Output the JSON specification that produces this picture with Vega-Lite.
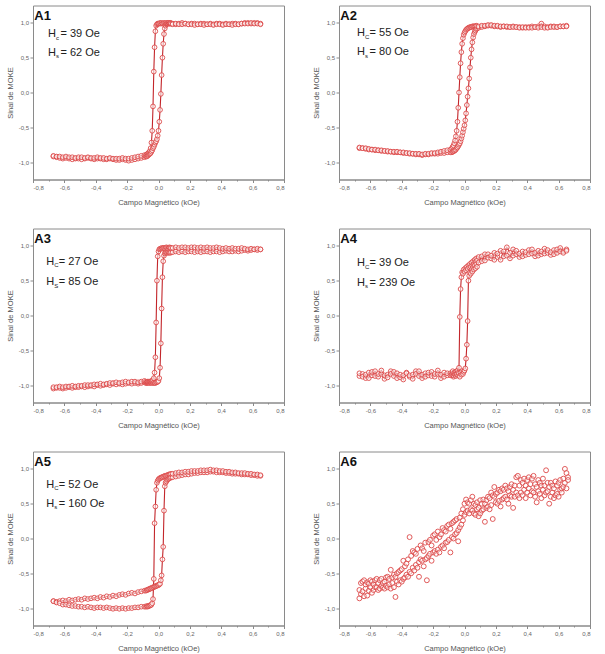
{
"$schema": "https://vega.github.io/schema/vega-lite/v6.json",
"padding": {"left": 5, "top": 4.5, "right": 0, "bottom": 0},
"spacing": 21,
"data": {"values": [
{"p":"A1","t":"A1","hc":"= 39 Oe","hs":"= 62 Oe"},
{"p":"A2","t":"A2","hc":"= 55 Oe","hs":"= 80 Oe"},
{"p":"A3","t":"A3","hc":"= 27 Oe","hs":"= 85 Oe"},
{"p":"A4","t":"A4","hc":"= 39 Oe","hs":"= 239 Oe"},
{"p":"A5","t":"A5","hc":"= 52 Oe","hs":"= 160 Oe"},
{"p":"A6","t":"A6"},
{"p":"A1","x":-0.67,"u":-0.92,"d":-0.91},{"p":"A1","x":-0.65,"u":-0.93,"d":-0.92},{"p":"A1","x":-0.63,"u":-0.94,"d":-0.92},{"p":"A1","x":-0.61,"u":-0.95,"d":-0.93},{"p":"A1","x":-0.59,"u":-0.94,"d":-0.92},{"p":"A1","x":-0.57,"u":-0.95,"d":-0.93},{"p":"A1","x":-0.55,"u":-0.96,"d":-0.93},{"p":"A1","x":-0.53,"u":-0.95,"d":-0.94},{"p":"A1","x":-0.51,"u":-0.95,"d":-0.93},{"p":"A1","x":-0.49,"u":-0.96,"d":-0.93},{"p":"A1","x":-0.47,"u":-0.95,"d":-0.94},{"p":"A1","x":-0.45,"u":-0.94,"d":-0.93},{"p":"A1","x":-0.43,"u":-0.95,"d":-0.94},{"p":"A1","x":-0.41,"u":-0.96,"d":-0.94},{"p":"A1","x":-0.39,"u":-0.95,"d":-0.93},{"p":"A1","x":-0.37,"u":-0.95,"d":-0.94},{"p":"A1","x":-0.35,"u":-0.96,"d":-0.94},{"p":"A1","x":-0.33,"u":-0.96,"d":-0.95},{"p":"A1","x":-0.31,"u":-0.95,"d":-0.94},{"p":"A1","x":-0.29,"u":-0.96,"d":-0.95},{"p":"A1","x":-0.27,"u":-0.97,"d":-0.95},{"p":"A1","x":-0.25,"u":-0.97,"d":-0.95},{"p":"A1","x":-0.23,"u":-0.96,"d":-0.94},{"p":"A1","x":-0.21,"u":-0.97,"d":-0.95},{"p":"A1","x":-0.19,"u":-0.98,"d":-0.95},{"p":"A1","x":-0.17,"u":-0.97,"d":-0.94},{"p":"A1","x":-0.15,"u":-0.96,"d":-0.93},{"p":"A1","x":-0.13,"u":-0.95,"d":-0.92},{"p":"A1","x":-0.11,"u":-0.94,"d":-0.91},{"p":"A1","x":-0.09,"u":-0.93,"d":-0.9},
{"p":"A1","x":-0.08,"u":-0.92,"d":-0.9},{"p":"A1","x":-0.075,"u":-0.92,"d":-0.89},{"p":"A1","x":-0.07,"u":-0.91,"d":-0.88},{"p":"A1","x":-0.065,"u":-0.9,"d":-0.87},{"p":"A1","x":-0.06,"u":-0.89,"d":-0.86},{"p":"A1","x":-0.055,"u":-0.88,"d":-0.84},{"p":"A1","x":-0.05,"u":-0.87,"d":-0.8},{"p":"A1","x":-0.045,"u":-0.85,"d":-0.72},{"p":"A1","x":-0.04,"u":-0.83,"d":-0.55},{"p":"A1","x":-0.035,"u":-0.8,"d":-0.2},{"p":"A1","x":-0.03,"u":-0.78,"d":0.3},{"p":"A1","x":-0.025,"u":-0.75,"d":0.65},{"p":"A1","x":-0.02,"u":-0.72,"d":0.88},{"p":"A1","x":-0.015,"u":-0.7,"d":0.96},{"p":"A1","x":-0.01,"u":-0.67,"d":0.98},{"p":"A1","x":-0.005,"u":-0.62,"d":0.99},{"p":"A1","x":0,"u":-0.55,"d":0.99},{"p":"A1","x":0.005,"u":-0.42,"d":0.99},{"p":"A1","x":0.01,"u":-0.25,"d":1.0},{"p":"A1","x":0.015,"u":-0.02,"d":0.99},{"p":"A1","x":0.02,"u":0.25,"d":1.0},{"p":"A1","x":0.025,"u":0.5,"d":0.99},{"p":"A1","x":0.03,"u":0.7,"d":0.99},{"p":"A1","x":0.035,"u":0.84,"d":1.0},{"p":"A1","x":0.04,"u":0.92,"d":0.99},{"p":"A1","x":0.045,"u":0.96,"d":1.0},{"p":"A1","x":0.05,"u":0.98,"d":0.99},{"p":"A1","x":0.055,"u":0.99,"d":1.0},{"p":"A1","x":0.06,"u":0.99,"d":0.99},{"p":"A1","x":0.065,"u":1.0,"d":1.0},{"p":"A1","x":0.07,"u":0.99,"d":0.99},{"p":"A1","x":0.075,"u":1.0,"d":1.0},{"p":"A1","x":0.08,"u":0.99,"d":0.99},
{"p":"A1","x":0.09,"u":0.99,"d":0.98},{"p":"A1","x":0.11,"u":0.98,"d":0.99},{"p":"A1","x":0.13,"u":0.99,"d":0.98},{"p":"A1","x":0.15,"u":1.0,"d":0.98},{"p":"A1","x":0.17,"u":0.99,"d":0.99},{"p":"A1","x":0.19,"u":0.98,"d":0.98},{"p":"A1","x":0.21,"u":0.99,"d":0.98},{"p":"A1","x":0.23,"u":0.99,"d":0.97},{"p":"A1","x":0.25,"u":0.98,"d":0.98},{"p":"A1","x":0.27,"u":0.99,"d":0.98},{"p":"A1","x":0.29,"u":0.99,"d":0.97},{"p":"A1","x":0.31,"u":0.98,"d":0.98},{"p":"A1","x":0.33,"u":0.99,"d":0.98},{"p":"A1","x":0.35,"u":0.98,"d":0.97},{"p":"A1","x":0.37,"u":0.99,"d":0.98},{"p":"A1","x":0.39,"u":0.99,"d":0.98},{"p":"A1","x":0.41,"u":0.98,"d":0.97},{"p":"A1","x":0.43,"u":0.99,"d":0.98},{"p":"A1","x":0.45,"u":0.98,"d":0.98},{"p":"A1","x":0.47,"u":0.99,"d":0.97},{"p":"A1","x":0.49,"u":0.99,"d":0.98},{"p":"A1","x":0.51,"u":0.98,"d":0.98},{"p":"A1","x":0.53,"u":0.99,"d":0.99},{"p":"A1","x":0.55,"u":1.0,"d":0.99},{"p":"A1","x":0.57,"u":1.0,"d":0.99},{"p":"A1","x":0.59,"u":0.99,"d":1.0},{"p":"A1","x":0.61,"u":1.0,"d":0.99},{"p":"A1","x":0.63,"u":1.0,"d":0.99},{"p":"A1","x":0.65,"u":0.99,"d":0.98},
{"p":"A2","x":-0.67,"u":-0.8,"d":-0.79},{"p":"A2","x":-0.65,"u":-0.8,"d":-0.8},{"p":"A2","x":-0.63,"u":-0.81,"d":-0.8},{"p":"A2","x":-0.61,"u":-0.82,"d":-0.81},{"p":"A2","x":-0.59,"u":-0.82,"d":-0.82},{"p":"A2","x":-0.57,"u":-0.83,"d":-0.82},{"p":"A2","x":-0.55,"u":-0.83,"d":-0.83},{"p":"A2","x":-0.53,"u":-0.84,"d":-0.83},{"p":"A2","x":-0.51,"u":-0.84,"d":-0.84},{"p":"A2","x":-0.49,"u":-0.85,"d":-0.84},{"p":"A2","x":-0.47,"u":-0.85,"d":-0.85},{"p":"A2","x":-0.45,"u":-0.86,"d":-0.85},{"p":"A2","x":-0.43,"u":-0.86,"d":-0.85},{"p":"A2","x":-0.41,"u":-0.86,"d":-0.86},{"p":"A2","x":-0.39,"u":-0.87,"d":-0.86},{"p":"A2","x":-0.37,"u":-0.87,"d":-0.87},{"p":"A2","x":-0.35,"u":-0.88,"d":-0.87},{"p":"A2","x":-0.33,"u":-0.88,"d":-0.88},{"p":"A2","x":-0.31,"u":-0.89,"d":-0.88},{"p":"A2","x":-0.29,"u":-0.89,"d":-0.88},{"p":"A2","x":-0.27,"u":-0.9,"d":-0.89},{"p":"A2","x":-0.25,"u":-0.89,"d":-0.88},{"p":"A2","x":-0.23,"u":-0.89,"d":-0.88},{"p":"A2","x":-0.21,"u":-0.88,"d":-0.87},{"p":"A2","x":-0.19,"u":-0.88,"d":-0.87},{"p":"A2","x":-0.17,"u":-0.88,"d":-0.86},{"p":"A2","x":-0.15,"u":-0.87,"d":-0.85},{"p":"A2","x":-0.13,"u":-0.87,"d":-0.84},{"p":"A2","x":-0.11,"u":-0.86,"d":-0.83},{"p":"A2","x":-0.09,"u":-0.86,"d":-0.82},
{"p":"A2","x":-0.08,"u":-0.86,"d":-0.8},{"p":"A2","x":-0.075,"u":-0.85,"d":-0.78},{"p":"A2","x":-0.07,"u":-0.84,"d":-0.76},{"p":"A2","x":-0.065,"u":-0.84,"d":-0.73},{"p":"A2","x":-0.06,"u":-0.83,"d":-0.69},{"p":"A2","x":-0.055,"u":-0.82,"d":-0.63},{"p":"A2","x":-0.05,"u":-0.8,"d":-0.55},{"p":"A2","x":-0.045,"u":-0.79,"d":-0.42},{"p":"A2","x":-0.04,"u":-0.77,"d":-0.22},{"p":"A2","x":-0.035,"u":-0.75,"d":0.0},{"p":"A2","x":-0.03,"u":-0.73,"d":0.22},{"p":"A2","x":-0.025,"u":-0.7,"d":0.42},{"p":"A2","x":-0.02,"u":-0.66,"d":0.58},{"p":"A2","x":-0.015,"u":-0.62,"d":0.7},{"p":"A2","x":-0.01,"u":-0.57,"d":0.78},{"p":"A2","x":-0.005,"u":-0.52,"d":0.83},{"p":"A2","x":0,"u":-0.47,"d":0.86},{"p":"A2","x":0.005,"u":-0.4,"d":0.88},{"p":"A2","x":0.01,"u":-0.3,"d":0.9},{"p":"A2","x":0.015,"u":-0.18,"d":0.91},{"p":"A2","x":0.02,"u":-0.06,"d":0.92},{"p":"A2","x":0.025,"u":0.06,"d":0.93},{"p":"A2","x":0.03,"u":0.2,"d":0.93},{"p":"A2","x":0.035,"u":0.36,"d":0.94},{"p":"A2","x":0.04,"u":0.5,"d":0.94},{"p":"A2","x":0.045,"u":0.62,"d":0.94},{"p":"A2","x":0.05,"u":0.72,"d":0.95},{"p":"A2","x":0.055,"u":0.79,"d":0.95},{"p":"A2","x":0.06,"u":0.84,"d":0.95},{"p":"A2","x":0.065,"u":0.87,"d":0.95},{"p":"A2","x":0.07,"u":0.89,"d":0.95},{"p":"A2","x":0.075,"u":0.91,"d":0.96},{"p":"A2","x":0.08,"u":0.92,"d":0.95},
{"p":"A2","x":0.09,"u":0.93,"d":0.95},{"p":"A2","x":0.11,"u":0.94,"d":0.96},{"p":"A2","x":0.13,"u":0.95,"d":0.96},{"p":"A2","x":0.15,"u":0.96,"d":0.97},{"p":"A2","x":0.17,"u":0.96,"d":0.97},{"p":"A2","x":0.19,"u":0.95,"d":0.96},{"p":"A2","x":0.21,"u":0.95,"d":0.96},{"p":"A2","x":0.23,"u":0.94,"d":0.95},{"p":"A2","x":0.25,"u":0.95,"d":0.95},{"p":"A2","x":0.27,"u":0.94,"d":0.95},{"p":"A2","x":0.29,"u":0.94,"d":0.94},{"p":"A2","x":0.31,"u":0.95,"d":0.94},{"p":"A2","x":0.33,"u":0.94,"d":0.94},{"p":"A2","x":0.35,"u":0.94,"d":0.93},{"p":"A2","x":0.37,"u":0.93,"d":0.94},{"p":"A2","x":0.39,"u":0.94,"d":0.93},{"p":"A2","x":0.41,"u":0.94,"d":0.93},{"p":"A2","x":0.43,"u":0.95,"d":0.93},{"p":"A2","x":0.45,"u":0.94,"d":0.94},{"p":"A2","x":0.47,"u":0.95,"d":0.93},{"p":"A2","x":0.49,"u":0.99,"d":0.94},{"p":"A2","x":0.51,"u":0.95,"d":0.93},{"p":"A2","x":0.53,"u":0.94,"d":0.93},{"p":"A2","x":0.55,"u":0.95,"d":0.94},{"p":"A2","x":0.57,"u":0.95,"d":0.94},{"p":"A2","x":0.59,"u":0.94,"d":0.94},{"p":"A2","x":0.61,"u":0.95,"d":0.95},{"p":"A2","x":0.63,"u":0.95,"d":0.95},{"p":"A2","x":0.65,"u":0.96,"d":0.95},
{"p":"A3","x":-0.67,"u":-1.05,"d":-1.03},{"p":"A3","x":-0.65,"u":-1.04,"d":-1.03},{"p":"A3","x":-0.63,"u":-1.04,"d":-1.02},{"p":"A3","x":-0.61,"u":-1.05,"d":-1.03},{"p":"A3","x":-0.59,"u":-1.04,"d":-1.02},{"p":"A3","x":-0.57,"u":-1.03,"d":-1.02},{"p":"A3","x":-0.55,"u":-1.04,"d":-1.01},{"p":"A3","x":-0.53,"u":-1.03,"d":-1.02},{"p":"A3","x":-0.51,"u":-1.03,"d":-1.01},{"p":"A3","x":-0.49,"u":-1.02,"d":-1.01},{"p":"A3","x":-0.47,"u":-1.03,"d":-1.0},{"p":"A3","x":-0.45,"u":-1.02,"d":-1.0},{"p":"A3","x":-0.43,"u":-1.01,"d":-1.0},{"p":"A3","x":-0.41,"u":-1.02,"d":-0.99},{"p":"A3","x":-0.39,"u":-1.0,"d":-0.99},{"p":"A3","x":-0.37,"u":-1.01,"d":-0.98},{"p":"A3","x":-0.35,"u":-1.0,"d":-0.99},{"p":"A3","x":-0.33,"u":-0.99,"d":-0.98},{"p":"A3","x":-0.31,"u":-1.0,"d":-0.97},{"p":"A3","x":-0.29,"u":-0.98,"d":-0.97},{"p":"A3","x":-0.27,"u":-0.99,"d":-0.96},{"p":"A3","x":-0.25,"u":-0.98,"d":-0.97},{"p":"A3","x":-0.23,"u":-0.99,"d":-0.96},{"p":"A3","x":-0.21,"u":-0.98,"d":-0.95},{"p":"A3","x":-0.19,"u":-0.97,"d":-0.96},{"p":"A3","x":-0.17,"u":-0.98,"d":-0.95},{"p":"A3","x":-0.15,"u":-0.97,"d":-0.95},{"p":"A3","x":-0.13,"u":-0.98,"d":-0.96},{"p":"A3","x":-0.11,"u":-0.97,"d":-0.95},{"p":"A3","x":-0.09,"u":-0.96,"d":-0.94},
{"p":"A3","x":-0.08,"u":-0.97,"d":-0.95},{"p":"A3","x":-0.075,"u":-0.97,"d":-0.96},{"p":"A3","x":-0.07,"u":-0.96,"d":-0.95},{"p":"A3","x":-0.065,"u":-0.97,"d":-0.95},{"p":"A3","x":-0.06,"u":-0.96,"d":-0.96},{"p":"A3","x":-0.055,"u":-0.97,"d":-0.95},{"p":"A3","x":-0.05,"u":-0.96,"d":-0.95},{"p":"A3","x":-0.045,"u":-0.97,"d":-0.94},{"p":"A3","x":-0.04,"u":-0.96,"d":-0.94},{"p":"A3","x":-0.035,"u":-0.97,"d":-0.93},{"p":"A3","x":-0.03,"u":-0.96,"d":-0.9},{"p":"A3","x":-0.025,"u":-0.97,"d":-0.82},{"p":"A3","x":-0.02,"u":-0.97,"d":-0.6},{"p":"A3","x":-0.015,"u":-0.96,"d":-0.1},{"p":"A3","x":-0.01,"u":-0.96,"d":0.5},{"p":"A3","x":-0.005,"u":-0.95,"d":0.85},{"p":"A3","x":0,"u":-0.94,"d":0.92},{"p":"A3","x":0.005,"u":-0.9,"d":0.95},{"p":"A3","x":0.01,"u":-0.75,"d":0.96},{"p":"A3","x":0.015,"u":-0.4,"d":0.96},{"p":"A3","x":0.02,"u":0.1,"d":0.97},{"p":"A3","x":0.025,"u":0.55,"d":0.96},{"p":"A3","x":0.03,"u":0.78,"d":0.97},{"p":"A3","x":0.035,"u":0.86,"d":0.97},{"p":"A3","x":0.04,"u":0.89,"d":0.96},{"p":"A3","x":0.045,"u":0.9,"d":0.97},{"p":"A3","x":0.05,"u":0.91,"d":0.98},{"p":"A3","x":0.055,"u":0.9,"d":0.97},{"p":"A3","x":0.06,"u":0.91,"d":0.96},{"p":"A3","x":0.065,"u":0.9,"d":0.97},{"p":"A3","x":0.07,"u":0.91,"d":0.98},{"p":"A3","x":0.075,"u":0.9,"d":0.97},{"p":"A3","x":0.08,"u":0.91,"d":0.97},
{"p":"A3","x":0.09,"u":0.91,"d":0.97},{"p":"A3","x":0.11,"u":0.92,"d":0.98},{"p":"A3","x":0.13,"u":0.91,"d":0.97},{"p":"A3","x":0.15,"u":0.92,"d":0.98},{"p":"A3","x":0.17,"u":0.91,"d":0.98},{"p":"A3","x":0.19,"u":0.92,"d":0.97},{"p":"A3","x":0.21,"u":0.92,"d":0.98},{"p":"A3","x":0.23,"u":0.91,"d":0.98},{"p":"A3","x":0.25,"u":0.92,"d":0.97},{"p":"A3","x":0.27,"u":0.91,"d":0.98},{"p":"A3","x":0.29,"u":0.92,"d":0.97},{"p":"A3","x":0.31,"u":0.92,"d":0.98},{"p":"A3","x":0.33,"u":0.91,"d":0.97},{"p":"A3","x":0.35,"u":0.92,"d":0.97},{"p":"A3","x":0.37,"u":0.92,"d":0.98},{"p":"A3","x":0.39,"u":0.91,"d":0.97},{"p":"A3","x":0.41,"u":0.92,"d":0.96},{"p":"A3","x":0.43,"u":0.93,"d":0.97},{"p":"A3","x":0.45,"u":0.92,"d":0.96},{"p":"A3","x":0.47,"u":0.92,"d":0.97},{"p":"A3","x":0.49,"u":0.93,"d":0.96},{"p":"A3","x":0.51,"u":0.92,"d":0.96},{"p":"A3","x":0.53,"u":0.93,"d":0.97},{"p":"A3","x":0.55,"u":0.94,"d":0.96},{"p":"A3","x":0.57,"u":0.93,"d":0.95},{"p":"A3","x":0.59,"u":0.94,"d":0.96},{"p":"A3","x":0.61,"u":0.95,"d":0.95},{"p":"A3","x":0.63,"u":0.94,"d":0.96},{"p":"A3","x":0.65,"u":0.95,"d":0.95},
{"p":"A4","x":-0.67,"u":-0.87,"d":-0.83},{"p":"A4","x":-0.65,"u":-0.84,"d":-0.88},{"p":"A4","x":-0.63,"u":-0.9,"d":-0.85},{"p":"A4","x":-0.61,"u":-0.82,"d":-0.9},{"p":"A4","x":-0.59,"u":-0.86,"d":-0.81},{"p":"A4","x":-0.57,"u":-0.8,"d":-0.87},{"p":"A4","x":-0.55,"u":-0.88,"d":-0.84},{"p":"A4","x":-0.53,"u":-0.84,"d":-0.79},{"p":"A4","x":-0.51,"u":-0.91,"d":-0.86},{"p":"A4","x":-0.49,"u":-0.85,"d":-0.89},{"p":"A4","x":-0.47,"u":-0.8,"d":-0.84},{"p":"A4","x":-0.45,"u":-0.87,"d":-0.81},{"p":"A4","x":-0.43,"u":-0.83,"d":-0.9},{"p":"A4","x":-0.41,"u":-0.89,"d":-0.85},{"p":"A4","x":-0.39,"u":-0.86,"d":-0.92},{"p":"A4","x":-0.37,"u":-0.82,"d":-0.83},{"p":"A4","x":-0.35,"u":-0.88,"d":-0.86},{"p":"A4","x":-0.33,"u":-0.85,"d":-0.91},{"p":"A4","x":-0.31,"u":-0.8,"d":-0.84},{"p":"A4","x":-0.29,"u":-0.87,"d":-0.8},{"p":"A4","x":-0.27,"u":-0.9,"d":-0.85},{"p":"A4","x":-0.25,"u":-0.83,"d":-0.88},{"p":"A4","x":-0.23,"u":-0.86,"d":-0.82},{"p":"A4","x":-0.21,"u":-0.81,"d":-0.87},{"p":"A4","x":-0.19,"u":-0.88,"d":-0.84},{"p":"A4","x":-0.17,"u":-0.84,"d":-0.79},{"p":"A4","x":-0.15,"u":-0.9,"d":-0.85},{"p":"A4","x":-0.13,"u":-0.82,"d":-0.88},{"p":"A4","x":-0.11,"u":-0.86,"d":-0.83},{"p":"A4","x":-0.09,"u":-0.83,"d":-0.86},
{"p":"A4","x":-0.08,"u":-0.86,"d":-0.84},{"p":"A4","x":-0.075,"u":-0.83,"d":-0.8},{"p":"A4","x":-0.07,"u":-0.88,"d":-0.86},{"p":"A4","x":-0.065,"u":-0.84,"d":-0.82},{"p":"A4","x":-0.06,"u":-0.81,"d":-0.85},{"p":"A4","x":-0.055,"u":-0.87,"d":-0.81},{"p":"A4","x":-0.05,"u":-0.85,"d":-0.83},{"p":"A4","x":-0.045,"u":-0.8,"d":-0.79},{"p":"A4","x":-0.04,"u":-0.86,"d":-0.82},{"p":"A4","x":-0.035,"u":-0.83,"d":-0.75},{"p":"A4","x":-0.03,"u":-0.88,"d":-0.02},{"p":"A4","x":-0.025,"u":-0.82,"d":0.38},{"p":"A4","x":-0.02,"u":-0.85,"d":0.55},{"p":"A4","x":-0.015,"u":-0.8,"d":0.62},{"p":"A4","x":-0.01,"u":-0.84,"d":0.6},{"p":"A4","x":-0.005,"u":-0.81,"d":0.66},{"p":"A4","x":0,"u":-0.79,"d":0.63},{"p":"A4","x":0.005,"u":-0.76,"d":0.68},{"p":"A4","x":0.01,"u":-0.62,"d":0.65},{"p":"A4","x":0.015,"u":-0.42,"d":0.7},{"p":"A4","x":0.02,"u":-0.08,"d":0.67},{"p":"A4","x":0.025,"u":0.5,"d":0.72},{"p":"A4","x":0.03,"u":0.57,"d":0.69},{"p":"A4","x":0.035,"u":0.62,"d":0.74},{"p":"A4","x":0.04,"u":0.6,"d":0.7},{"p":"A4","x":0.045,"u":0.66,"d":0.76},{"p":"A4","x":0.05,"u":0.63,"d":0.72},{"p":"A4","x":0.055,"u":0.69,"d":0.78},{"p":"A4","x":0.06,"u":0.66,"d":0.74},{"p":"A4","x":0.065,"u":0.72,"d":0.8},{"p":"A4","x":0.07,"u":0.68,"d":0.77},{"p":"A4","x":0.075,"u":0.74,"d":0.82},{"p":"A4","x":0.08,"u":0.7,"d":0.79},
{"p":"A4","x":0.09,"u":0.76,"d":0.84},{"p":"A4","x":0.11,"u":0.85,"d":0.78},{"p":"A4","x":0.13,"u":0.79,"d":0.88},{"p":"A4","x":0.15,"u":0.88,"d":0.83},{"p":"A4","x":0.17,"u":0.82,"d":0.86},{"p":"A4","x":0.19,"u":0.9,"d":0.8},{"p":"A4","x":0.21,"u":0.84,"d":0.89},{"p":"A4","x":0.23,"u":0.8,"d":0.93},{"p":"A4","x":0.25,"u":0.92,"d":0.85},{"p":"A4","x":0.27,"u":0.86,"d":0.98},{"p":"A4","x":0.29,"u":0.82,"d":0.9},{"p":"A4","x":0.31,"u":0.95,"d":0.86},{"p":"A4","x":0.33,"u":0.88,"d":0.93},{"p":"A4","x":0.35,"u":0.84,"d":0.89},{"p":"A4","x":0.37,"u":0.92,"d":0.85},{"p":"A4","x":0.39,"u":0.87,"d":0.91},{"p":"A4","x":0.41,"u":0.94,"d":0.88},{"p":"A4","x":0.43,"u":0.89,"d":0.95},{"p":"A4","x":0.45,"u":0.85,"d":0.9},{"p":"A4","x":0.47,"u":0.93,"d":0.86},{"p":"A4","x":0.49,"u":0.88,"d":0.92},{"p":"A4","x":0.51,"u":0.96,"d":0.89},{"p":"A4","x":0.53,"u":0.9,"d":0.94},{"p":"A4","x":0.55,"u":0.87,"d":0.91},{"p":"A4","x":0.57,"u":0.94,"d":0.88},{"p":"A4","x":0.59,"u":0.9,"d":0.95},{"p":"A4","x":0.61,"u":0.97,"d":0.92},{"p":"A4","x":0.63,"u":0.92,"d":0.9},{"p":"A4","x":0.65,"u":0.95,"d":0.93},
{"p":"A5","x":-0.67,"u":-0.9,"d":-0.9},{"p":"A5","x":-0.65,"u":-0.91,"d":-0.92},{"p":"A5","x":-0.63,"u":-0.9,"d":-0.93},{"p":"A5","x":-0.61,"u":-0.89,"d":-0.95},{"p":"A5","x":-0.59,"u":-0.9,"d":-0.95},{"p":"A5","x":-0.57,"u":-0.88,"d":-0.96},{"p":"A5","x":-0.55,"u":-0.89,"d":-0.97},{"p":"A5","x":-0.53,"u":-0.88,"d":-0.97},{"p":"A5","x":-0.51,"u":-0.87,"d":-0.98},{"p":"A5","x":-0.49,"u":-0.88,"d":-0.98},{"p":"A5","x":-0.47,"u":-0.86,"d":-0.99},{"p":"A5","x":-0.45,"u":-0.87,"d":-0.98},{"p":"A5","x":-0.43,"u":-0.86,"d":-0.99},{"p":"A5","x":-0.41,"u":-0.85,"d":-1.0},{"p":"A5","x":-0.39,"u":-0.86,"d":-0.99},{"p":"A5","x":-0.37,"u":-0.84,"d":-0.99},{"p":"A5","x":-0.35,"u":-0.85,"d":-1.0},{"p":"A5","x":-0.33,"u":-0.83,"d":-0.99},{"p":"A5","x":-0.31,"u":-0.84,"d":-1.0},{"p":"A5","x":-0.29,"u":-0.82,"d":-1.01},{"p":"A5","x":-0.27,"u":-0.83,"d":-1.0},{"p":"A5","x":-0.25,"u":-0.81,"d":-1.01},{"p":"A5","x":-0.23,"u":-0.8,"d":-1.0},{"p":"A5","x":-0.21,"u":-0.81,"d":-1.01},{"p":"A5","x":-0.19,"u":-0.79,"d":-1.0},{"p":"A5","x":-0.17,"u":-0.78,"d":-1.0},{"p":"A5","x":-0.15,"u":-0.79,"d":-0.99},{"p":"A5","x":-0.13,"u":-0.77,"d":-0.99},{"p":"A5","x":-0.11,"u":-0.76,"d":-0.98},{"p":"A5","x":-0.09,"u":-0.75,"d":-0.98},
{"p":"A5","x":-0.08,"u":-0.75,"d":-0.98},{"p":"A5","x":-0.075,"u":-0.74,"d":-0.97},{"p":"A5","x":-0.07,"u":-0.74,"d":-0.98},{"p":"A5","x":-0.065,"u":-0.73,"d":-0.97},{"p":"A5","x":-0.06,"u":-0.73,"d":-0.97},{"p":"A5","x":-0.055,"u":-0.72,"d":-0.96},{"p":"A5","x":-0.05,"u":-0.72,"d":-0.96},{"p":"A5","x":-0.045,"u":-0.71,"d":-0.95},{"p":"A5","x":-0.04,"u":-0.71,"d":-0.93},{"p":"A5","x":-0.035,"u":-0.7,"d":-0.87},{"p":"A5","x":-0.03,"u":-0.7,"d":-0.58},{"p":"A5","x":-0.025,"u":-0.69,"d":0.22},{"p":"A5","x":-0.02,"u":-0.69,"d":0.46},{"p":"A5","x":-0.015,"u":-0.68,"d":0.7},{"p":"A5","x":-0.01,"u":-0.68,"d":0.8},{"p":"A5","x":-0.005,"u":-0.67,"d":0.83},{"p":"A5","x":0,"u":-0.67,"d":0.85},{"p":"A5","x":0.005,"u":-0.66,"d":0.86},{"p":"A5","x":0.01,"u":-0.65,"d":0.87},{"p":"A5","x":0.015,"u":-0.6,"d":0.87},{"p":"A5","x":0.02,"u":-0.53,"d":0.88},{"p":"A5","x":0.025,"u":-0.3,"d":0.88},{"p":"A5","x":0.03,"u":-0.12,"d":0.89},{"p":"A5","x":0.035,"u":0.4,"d":0.89},{"p":"A5","x":0.04,"u":0.75,"d":0.9},{"p":"A5","x":0.045,"u":0.8,"d":0.9},{"p":"A5","x":0.05,"u":0.82,"d":0.9},{"p":"A5","x":0.055,"u":0.84,"d":0.91},{"p":"A5","x":0.06,"u":0.85,"d":0.91},{"p":"A5","x":0.065,"u":0.86,"d":0.92},{"p":"A5","x":0.07,"u":0.87,"d":0.92},{"p":"A5","x":0.075,"u":0.87,"d":0.92},{"p":"A5","x":0.08,"u":0.88,"d":0.93},
{"p":"A5","x":0.09,"u":0.88,"d":0.93},{"p":"A5","x":0.11,"u":0.89,"d":0.94},{"p":"A5","x":0.13,"u":0.9,"d":0.95},{"p":"A5","x":0.15,"u":0.91,"d":0.95},{"p":"A5","x":0.17,"u":0.92,"d":0.96},{"p":"A5","x":0.19,"u":0.92,"d":0.96},{"p":"A5","x":0.21,"u":0.93,"d":0.97},{"p":"A5","x":0.23,"u":0.94,"d":0.97},{"p":"A5","x":0.25,"u":0.94,"d":0.97},{"p":"A5","x":0.27,"u":0.95,"d":0.98},{"p":"A5","x":0.29,"u":0.95,"d":0.98},{"p":"A5","x":0.31,"u":0.95,"d":0.98},{"p":"A5","x":0.33,"u":0.96,"d":0.99},{"p":"A5","x":0.35,"u":0.96,"d":0.98},{"p":"A5","x":0.37,"u":0.95,"d":0.98},{"p":"A5","x":0.39,"u":0.95,"d":0.97},{"p":"A5","x":0.41,"u":0.95,"d":0.97},{"p":"A5","x":0.43,"u":0.94,"d":0.96},{"p":"A5","x":0.45,"u":0.94,"d":0.96},{"p":"A5","x":0.47,"u":0.93,"d":0.95},{"p":"A5","x":0.49,"u":0.93,"d":0.95},{"p":"A5","x":0.51,"u":0.93,"d":0.94},{"p":"A5","x":0.53,"u":0.92,"d":0.94},{"p":"A5","x":0.55,"u":0.92,"d":0.94},{"p":"A5","x":0.57,"u":0.92,"d":0.93},{"p":"A5","x":0.59,"u":0.91,"d":0.93},{"p":"A5","x":0.61,"u":0.91,"d":0.92},{"p":"A5","x":0.63,"u":0.9,"d":0.92},{"p":"A5","x":0.65,"u":0.9,"d":0.91},
{"p":"A6","x":-0.67,"u":-0.86,"d":-0.74},{"p":"A6","x":-0.66,"u":-0.64,"d":-0.8},{"p":"A6","x":-0.65,"u":-0.76,"d":-0.62},{"p":"A6","x":-0.64,"u":-0.6,"d":-0.83},{"p":"A6","x":-0.63,"u":-0.72,"d":-0.66},{"p":"A6","x":-0.62,"u":-0.82,"d":-0.63},{"p":"A6","x":-0.61,"u":-0.65,"d":-0.75},{"p":"A6","x":-0.6,"u":-0.7,"d":-0.6},{"p":"A6","x":-0.59,"u":-0.62,"d":-0.78},{"p":"A6","x":-0.58,"u":-0.74,"d":-0.66},{"p":"A6","x":-0.57,"u":-0.6,"d":-0.7},{"p":"A6","x":-0.56,"u":-0.7,"d":-0.58},{"p":"A6","x":-0.55,"u":-0.64,"d":-0.74},{"p":"A6","x":-0.54,"u":-0.72,"d":-0.6},{"p":"A6","x":-0.53,"u":-0.58,"d":-0.68},{"p":"A6","x":-0.52,"u":-0.7,"d":-0.64},{"p":"A6","x":-0.51,"u":-0.62,"d":-0.72},{"p":"A6","x":-0.5,"u":-0.68,"d":-0.56},{"p":"A6","x":-0.49,"u":-0.55,"d":-0.7},{"p":"A6","x":-0.48,"u":-0.66,"d":-0.58},{"p":"A6","x":-0.47,"u":-0.45,"d":-0.72},{"p":"A6","x":-0.46,"u":-0.64,"d":-0.56},{"p":"A6","x":-0.45,"u":-0.7,"d":-0.52},{"p":"A6","x":-0.44,"u":-0.55,"d":-0.84},{"p":"A6","x":-0.43,"u":-0.62,"d":-0.5},{"p":"A6","x":-0.42,"u":-0.48,"d":-0.66},{"p":"A6","x":-0.41,"u":-0.6,"d":-0.46},{"p":"A6","x":-0.4,"u":-0.44,"d":-0.62},{"p":"A6","x":-0.39,"u":-0.58,"d":-0.32},{"p":"A6","x":-0.38,"u":-0.4,"d":-0.56},{"p":"A6","x":-0.37,"u":-0.52,"d":-0.36},{"p":"A6","x":-0.36,"u":-0.3,"d":-0.55},{"p":"A6","x":-0.35,"u":-0.48,"d":0.02},{"p":"A6","x":-0.34,"u":-0.25,"d":-0.5},{"p":"A6","x":-0.33,"u":-0.42,"d":-0.18},{"p":"A6","x":-0.32,"u":-0.2,"d":-0.46},{"p":"A6","x":-0.31,"u":-0.38,"d":-0.22},{"p":"A6","x":-0.3,"u":-0.15,"d":-0.42},{"p":"A6","x":-0.29,"u":-0.34,"d":-0.55},{"p":"A6","x":-0.28,"u":-0.1,"d":-0.3},{"p":"A6","x":-0.27,"u":-0.32,"d":-0.14},{"p":"A6","x":-0.26,"u":-0.18,"d":-0.4},{"p":"A6","x":-0.25,"u":-0.06,"d":-0.3},{"p":"A6","x":-0.24,"u":-0.28,"d":-0.6},{"p":"A6","x":-0.23,"u":-0.05,"d":-0.25},{"p":"A6","x":-0.22,"u":-0.22,"d":-0.02},{"p":"A6","x":-0.21,"u":-0.32,"d":-0.1},{"p":"A6","x":-0.2,"u":0.04,"d":-0.2},{"p":"A6","x":-0.19,"u":-0.18,"d":0.06},{"p":"A6","x":-0.18,"u":-0.02,"d":-0.22},{"p":"A6","x":-0.17,"u":0.1,"d":-0.16},{"p":"A6","x":-0.16,"u":-0.2,"d":0.02},{"p":"A6","x":-0.15,"u":0.06,"d":-0.12},{"p":"A6","x":-0.14,"u":-0.1,"d":0.15},{"p":"A6","x":-0.13,"u":0.12,"d":-0.14},{"p":"A6","x":-0.12,"u":-0.06,"d":0.1},{"p":"A6","x":-0.11,"u":0.18,"d":-0.05},{"p":"A6","x":-0.1,"u":-0.02,"d":0.2},{"p":"A6","x":-0.09,"u":0.14,"d":-0.2},{"p":"A6","x":-0.08,"u":0.02,"d":0.22},{"p":"A6","x":-0.07,"u":0.24,"d":0.0},{"p":"A6","x":-0.06,"u":0.06,"d":0.26},{"p":"A6","x":-0.05,"u":0.28,"d":0.08},{"p":"A6","x":-0.04,"u":0.12,"d":-0.04},{"p":"A6","x":-0.03,"u":0.3,"d":0.16},{"p":"A6","x":-0.02,"u":0.2,"d":0.36},{"p":"A6","x":-0.01,"u":0.42,"d":0.26},{"p":"A6","x":0,"u":0.5,"d":0.34},{"p":"A6","x":0.01,"u":0.38,"d":0.56},{"p":"A6","x":0.02,"u":0.52,"d":0.4},{"p":"A6","x":0.03,"u":0.36,"d":0.5},{"p":"A6","x":0.04,"u":0.55,"d":0.42},{"p":"A6","x":0.05,"u":0.4,"d":0.6},{"p":"A6","x":0.06,"u":0.5,"d":0.36},{"p":"A6","x":0.07,"u":0.34,"d":0.48},{"p":"A6","x":0.08,"u":0.52,"d":0.42},{"p":"A6","x":0.09,"u":0.44,"d":0.32},{"p":"A6","x":0.1,"u":0.36,"d":0.55},{"p":"A6","x":0.11,"u":0.5,"d":0.4},{"p":"A6","x":0.12,"u":0.42,"d":0.56},{"p":"A6","x":0.13,"u":0.24,"d":0.5},{"p":"A6","x":0.14,"u":0.55,"d":0.44},{"p":"A6","x":0.15,"u":0.46,"d":0.6},{"p":"A6","x":0.16,"u":0.58,"d":0.42},{"p":"A6","x":0.17,"u":0.48,"d":0.66},{"p":"A6","x":0.18,"u":0.28,"d":0.62},{"p":"A6","x":0.19,"u":0.6,"d":0.74},{"p":"A6","x":0.2,"u":0.52,"d":0.64},{"p":"A6","x":0.21,"u":0.66,"d":0.5},{"p":"A6","x":0.22,"u":0.54,"d":0.7},{"p":"A6","x":0.23,"u":0.68,"d":0.46},{"p":"A6","x":0.24,"u":0.56,"d":0.72},{"p":"A6","x":0.25,"u":0.7,"d":0.58},{"p":"A6","x":0.26,"u":0.6,"d":0.76},{"p":"A6","x":0.27,"u":0.72,"d":0.56},{"p":"A6","x":0.28,"u":0.5,"d":0.68},{"p":"A6","x":0.29,"u":0.74,"d":0.62},{"p":"A6","x":0.3,"u":0.6,"d":0.78},{"p":"A6","x":0.31,"u":0.44,"d":0.7},{"p":"A6","x":0.32,"u":0.76,"d":0.6},{"p":"A6","x":0.33,"u":0.88,"d":0.66},{"p":"A6","x":0.34,"u":0.62,"d":0.9},{"p":"A6","x":0.35,"u":0.76,"d":0.58},{"p":"A6","x":0.36,"u":0.66,"d":0.84},{"p":"A6","x":0.37,"u":0.8,"d":0.62},{"p":"A6","x":0.38,"u":0.7,"d":0.86},{"p":"A6","x":0.39,"u":0.58,"d":0.76},{"p":"A6","x":0.4,"u":0.84,"d":0.66},{"p":"A6","x":0.41,"u":0.72,"d":0.88},{"p":"A6","x":0.42,"u":0.62,"d":0.78},{"p":"A6","x":0.43,"u":0.86,"d":0.68},{"p":"A6","x":0.44,"u":0.66,"d":0.9},{"p":"A6","x":0.45,"u":0.78,"d":0.6},{"p":"A6","x":0.46,"u":0.52,"d":0.74},{"p":"A6","x":0.47,"u":0.84,"d":0.68},{"p":"A6","x":0.48,"u":0.64,"d":0.8},{"p":"A6","x":0.49,"u":0.76,"d":0.58},{"p":"A6","x":0.5,"u":0.86,"d":0.7},{"p":"A6","x":0.51,"u":0.62,"d":0.76},{"p":"A6","x":0.52,"u":0.98,"d":0.66},{"p":"A6","x":0.53,"u":0.68,"d":0.8},{"p":"A6","x":0.54,"u":0.5,"d":0.74},{"p":"A6","x":0.55,"u":0.8,"d":0.6},{"p":"A6","x":0.56,"u":0.66,"d":0.76},{"p":"A6","x":0.57,"u":0.72,"d":0.58},{"p":"A6","x":0.58,"u":0.62,"d":0.82},{"p":"A6","x":0.59,"u":0.76,"d":0.64},{"p":"A6","x":0.6,"u":0.6,"d":0.8},{"p":"A6","x":0.61,"u":0.84,"d":0.7},{"p":"A6","x":0.62,"u":0.72,"d":0.66},{"p":"A6","x":0.63,"u":0.86,"d":0.74},{"p":"A6","x":0.64,"u":1.0,"d":0.8},{"p":"A6","x":0.65,"u":0.72,"d":0.94},{"p":"A6","x":0.66,"u":0.88,"d":0.84}
]},
"vconcat": [
{"hconcat": [
 {"width": 251, "height": 174, "transform": [{"filter": "datum.p == 'A1'"}], "resolve": {"axis": {"x": "independent"}}, "layer": [
  {"transform": [{"filter": "isValid(datum.x)"}, {"fold": ["u", "d"], "as": ["b", "y"]}], "mark": {"type": "line", "color": "#c3262b", "strokeWidth": 1.1}, "encoding": {"x": {"field": "x", "type": "quantitative", "axis": null}, "y": {"field": "y", "type": "quantitative"}, "detail": {"field": "b"}}},
  {"transform": [{"filter": "isValid(datum.x)"}, {"fold": ["u", "d"], "as": ["b", "y"]}], "mark": {"type": "point", "shape": "circle", "fill": "white", "fillOpacity": 0.55, "stroke": "#dc4a4a", "strokeWidth": 0.9, "size": 22},
   "encoding": {"x": {"field": "x", "type": "quantitative", "scale": {"domain": [-0.8, 0.8], "nice": false, "zero": false}, "axis": {"orient": "bottom", "title": "Campo Magnético (kOe)", "values": [-0.8,-0.7,-0.6,-0.5,-0.4,-0.3,-0.2,-0.1,0,0.1,0.2,0.3,0.4,0.5,0.6,0.7,0.8], "format": ".1f", "labelExpr": "abs(round(datum.value*10))%4==0 ? datum.label : ''", "tickSize": {"condition": {"test": "abs(round(datum.value*10))%2==1", "value": 1.5}, "value": 3}}},
                "y": {"field": "y", "type": "quantitative", "scale": {"domain": [-1.25, 1.25], "nice": false, "zero": false}, "axis": {"title": "Sinal de MOKE", "values": [-1,-0.75,-0.5,-0.25,0,0.25,0.5,0.75,1], "format": ".1f", "labelExpr": "abs(round(datum.value*4))%2==0 ? datum.label : ''", "tickSize": {"condition": {"test": "abs(round(datum.value*4))%2==1", "value": 1.5}, "value": 3}}}}},
  {"transform": [{"filter": "isValid(datum.t)"}], "mark": {"type": "text", "align": "left", "baseline": "middle", "fontSize": 13, "fontWeight": "bold", "color": "#111"}, "encoding": {"x": {"datum": -0.792, "type": "quantitative", "axis": {"orient": "bottom", "title": null, "values": [-0.6,-0.2,0.2,0.6], "format": ".1f", "domain": false, "tickSize": 3}}, "y": {"datum": 1.1, "type": "quantitative"}, "text": {"field": "t"}}},
  {"transform": [{"filter": "isValid(datum.hc)"}], "mark": {"type": "text", "align": "left", "baseline": "middle", "fontSize": 11, "color": "#222"}, "encoding": {"x": {"datum": -0.705, "type": "quantitative", "axis": null}, "y": {"datum": 0.84, "type": "quantitative"}, "text": {"value": "H"}}},
  {"transform": [{"filter": "isValid(datum.hc)"}], "mark": {"type": "text", "align": "left", "baseline": "middle", "fontSize": 6, "dx": 8, "dy": 3.5, "color": "#222"}, "encoding": {"x": {"datum": -0.705, "type": "quantitative", "axis": null}, "y": {"datum": 0.84, "type": "quantitative"}, "text": {"value": "c"}}},
  {"transform": [{"filter": "isValid(datum.hc)"}], "mark": {"type": "text", "align": "left", "baseline": "middle", "fontSize": 11, "dx": 12.5, "color": "#222"}, "encoding": {"x": {"datum": -0.705, "type": "quantitative", "axis": null}, "y": {"datum": 0.84, "type": "quantitative"}, "text": {"field": "hc"}}},
  {"transform": [{"filter": "isValid(datum.hs)"}], "mark": {"type": "text", "align": "left", "baseline": "middle", "fontSize": 11, "color": "#222"}, "encoding": {"x": {"datum": -0.705, "type": "quantitative", "axis": null}, "y": {"datum": 0.57, "type": "quantitative"}, "text": {"value": "H"}}},
  {"transform": [{"filter": "isValid(datum.hs)"}], "mark": {"type": "text", "align": "left", "baseline": "middle", "fontSize": 6, "dx": 8, "dy": 3.5, "color": "#222"}, "encoding": {"x": {"datum": -0.705, "type": "quantitative", "axis": null}, "y": {"datum": 0.57, "type": "quantitative"}, "text": {"value": "s"}}},
  {"transform": [{"filter": "isValid(datum.hs)"}], "mark": {"type": "text", "align": "left", "baseline": "middle", "fontSize": 11, "dx": 12.5, "color": "#222"}, "encoding": {"x": {"datum": -0.705, "type": "quantitative", "axis": null}, "y": {"datum": 0.57, "type": "quantitative"}, "text": {"field": "hs"}}}
 ]},
 {"width": 251, "height": 174, "transform": [{"filter": "datum.p == 'A2'"}], "resolve": {"axis": {"x": "independent"}}, "layer": [
  {"transform": [{"filter": "isValid(datum.x)"}, {"fold": ["u", "d"], "as": ["b", "y"]}], "mark": {"type": "line", "color": "#c3262b", "strokeWidth": 1.1}, "encoding": {"x": {"field": "x", "type": "quantitative", "axis": null}, "y": {"field": "y", "type": "quantitative"}, "detail": {"field": "b"}}},
  {"transform": [{"filter": "isValid(datum.x)"}, {"fold": ["u", "d"], "as": ["b", "y"]}], "mark": {"type": "point", "shape": "circle", "fill": "white", "fillOpacity": 0.55, "stroke": "#dc4a4a", "strokeWidth": 0.9, "size": 22},
   "encoding": {"x": {"field": "x", "type": "quantitative", "scale": {"domain": [-0.8, 0.8], "nice": false, "zero": false}, "axis": {"orient": "bottom", "title": "Campo Magnético (kOe)", "values": [-0.8,-0.7,-0.6,-0.5,-0.4,-0.3,-0.2,-0.1,0,0.1,0.2,0.3,0.4,0.5,0.6,0.7,0.8], "format": ".1f", "labelExpr": "abs(round(datum.value*10))%4==0 ? datum.label : ''", "tickSize": {"condition": {"test": "abs(round(datum.value*10))%2==1", "value": 1.5}, "value": 3}}},
                "y": {"field": "y", "type": "quantitative", "scale": {"domain": [-1.25, 1.25], "nice": false, "zero": false}, "axis": {"title": "Sinal de MOKE", "values": [-1,-0.75,-0.5,-0.25,0,0.25,0.5,0.75,1], "format": ".1f", "labelExpr": "abs(round(datum.value*4))%2==0 ? datum.label : ''", "tickSize": {"condition": {"test": "abs(round(datum.value*4))%2==1", "value": 1.5}, "value": 3}}}}},
  {"transform": [{"filter": "isValid(datum.t)"}], "mark": {"type": "text", "align": "left", "baseline": "middle", "fontSize": 13, "fontWeight": "bold", "color": "#111"}, "encoding": {"x": {"datum": -0.792, "type": "quantitative", "axis": {"orient": "bottom", "title": null, "values": [-0.6,-0.2,0.2,0.6], "format": ".1f", "domain": false, "tickSize": 3}}, "y": {"datum": 1.1, "type": "quantitative"}, "text": {"field": "t"}}},
  {"transform": [{"filter": "isValid(datum.hc)"}], "mark": {"type": "text", "align": "left", "baseline": "middle", "fontSize": 11, "color": "#222"}, "encoding": {"x": {"datum": -0.685, "type": "quantitative", "axis": null}, "y": {"datum": 0.85, "type": "quantitative"}, "text": {"value": "H"}}},
  {"transform": [{"filter": "isValid(datum.hc)"}], "mark": {"type": "text", "align": "left", "baseline": "middle", "fontSize": 6, "dx": 8, "dy": 3.5, "color": "#222"}, "encoding": {"x": {"datum": -0.685, "type": "quantitative", "axis": null}, "y": {"datum": 0.85, "type": "quantitative"}, "text": {"value": "C"}}},
  {"transform": [{"filter": "isValid(datum.hc)"}], "mark": {"type": "text", "align": "left", "baseline": "middle", "fontSize": 11, "dx": 12.5, "color": "#222"}, "encoding": {"x": {"datum": -0.685, "type": "quantitative", "axis": null}, "y": {"datum": 0.85, "type": "quantitative"}, "text": {"field": "hc"}}},
  {"transform": [{"filter": "isValid(datum.hs)"}], "mark": {"type": "text", "align": "left", "baseline": "middle", "fontSize": 11, "color": "#222"}, "encoding": {"x": {"datum": -0.685, "type": "quantitative", "axis": null}, "y": {"datum": 0.58, "type": "quantitative"}, "text": {"value": "H"}}},
  {"transform": [{"filter": "isValid(datum.hs)"}], "mark": {"type": "text", "align": "left", "baseline": "middle", "fontSize": 6, "dx": 8, "dy": 3.5, "color": "#222"}, "encoding": {"x": {"datum": -0.685, "type": "quantitative", "axis": null}, "y": {"datum": 0.58, "type": "quantitative"}, "text": {"value": "s"}}},
  {"transform": [{"filter": "isValid(datum.hs)"}], "mark": {"type": "text", "align": "left", "baseline": "middle", "fontSize": 11, "dx": 12.5, "color": "#222"}, "encoding": {"x": {"datum": -0.685, "type": "quantitative", "axis": null}, "y": {"datum": 0.58, "type": "quantitative"}, "text": {"field": "hs"}}}
 ]}
]},
{"hconcat": [
 {"width": 251, "height": 174, "transform": [{"filter": "datum.p == 'A3'"}], "resolve": {"axis": {"x": "independent"}}, "layer": [
  {"transform": [{"filter": "isValid(datum.x)"}, {"fold": ["u", "d"], "as": ["b", "y"]}], "mark": {"type": "line", "color": "#c3262b", "strokeWidth": 1.1}, "encoding": {"x": {"field": "x", "type": "quantitative", "axis": null}, "y": {"field": "y", "type": "quantitative"}, "detail": {"field": "b"}}},
  {"transform": [{"filter": "isValid(datum.x)"}, {"fold": ["u", "d"], "as": ["b", "y"]}], "mark": {"type": "point", "shape": "circle", "fill": "white", "fillOpacity": 0.55, "stroke": "#dc4a4a", "strokeWidth": 0.9, "size": 22},
   "encoding": {"x": {"field": "x", "type": "quantitative", "scale": {"domain": [-0.8, 0.8], "nice": false, "zero": false}, "axis": {"orient": "bottom", "title": "Campo Magnético (kOe)", "values": [-0.8,-0.7,-0.6,-0.5,-0.4,-0.3,-0.2,-0.1,0,0.1,0.2,0.3,0.4,0.5,0.6,0.7,0.8], "format": ".1f", "labelExpr": "abs(round(datum.value*10))%4==0 ? datum.label : ''", "tickSize": {"condition": {"test": "abs(round(datum.value*10))%2==1", "value": 1.5}, "value": 3}}},
                "y": {"field": "y", "type": "quantitative", "scale": {"domain": [-1.25, 1.25], "nice": false, "zero": false}, "axis": {"title": "Sinal de MOKE", "values": [-1,-0.75,-0.5,-0.25,0,0.25,0.5,0.75,1], "format": ".1f", "labelExpr": "abs(round(datum.value*4))%2==0 ? datum.label : ''", "tickSize": {"condition": {"test": "abs(round(datum.value*4))%2==1", "value": 1.5}, "value": 3}}}}},
  {"transform": [{"filter": "isValid(datum.t)"}], "mark": {"type": "text", "align": "left", "baseline": "middle", "fontSize": 13, "fontWeight": "bold", "color": "#111"}, "encoding": {"x": {"datum": -0.792, "type": "quantitative", "axis": {"orient": "bottom", "title": null, "values": [-0.6,-0.2,0.2,0.6], "format": ".1f", "domain": false, "tickSize": 3}}, "y": {"datum": 1.1, "type": "quantitative"}, "text": {"field": "t"}}},
  {"transform": [{"filter": "isValid(datum.hc)"}], "mark": {"type": "text", "align": "left", "baseline": "middle", "fontSize": 11, "color": "#222"}, "encoding": {"x": {"datum": -0.715, "type": "quantitative", "axis": null}, "y": {"datum": 0.77, "type": "quantitative"}, "text": {"value": "H"}}},
  {"transform": [{"filter": "isValid(datum.hc)"}], "mark": {"type": "text", "align": "left", "baseline": "middle", "fontSize": 6, "dx": 8, "dy": 3.5, "color": "#222"}, "encoding": {"x": {"datum": -0.715, "type": "quantitative", "axis": null}, "y": {"datum": 0.77, "type": "quantitative"}, "text": {"value": "C"}}},
  {"transform": [{"filter": "isValid(datum.hc)"}], "mark": {"type": "text", "align": "left", "baseline": "middle", "fontSize": 11, "dx": 12.5, "color": "#222"}, "encoding": {"x": {"datum": -0.715, "type": "quantitative", "axis": null}, "y": {"datum": 0.77, "type": "quantitative"}, "text": {"field": "hc"}}},
  {"transform": [{"filter": "isValid(datum.hs)"}], "mark": {"type": "text", "align": "left", "baseline": "middle", "fontSize": 11, "color": "#222"}, "encoding": {"x": {"datum": -0.715, "type": "quantitative", "axis": null}, "y": {"datum": 0.48, "type": "quantitative"}, "text": {"value": "H"}}},
  {"transform": [{"filter": "isValid(datum.hs)"}], "mark": {"type": "text", "align": "left", "baseline": "middle", "fontSize": 6, "dx": 8, "dy": 3.5, "color": "#222"}, "encoding": {"x": {"datum": -0.715, "type": "quantitative", "axis": null}, "y": {"datum": 0.48, "type": "quantitative"}, "text": {"value": "S"}}},
  {"transform": [{"filter": "isValid(datum.hs)"}], "mark": {"type": "text", "align": "left", "baseline": "middle", "fontSize": 11, "dx": 12.5, "color": "#222"}, "encoding": {"x": {"datum": -0.715, "type": "quantitative", "axis": null}, "y": {"datum": 0.48, "type": "quantitative"}, "text": {"field": "hs"}}}
 ]},
 {"width": 251, "height": 174, "transform": [{"filter": "datum.p == 'A4'"}], "resolve": {"axis": {"x": "independent"}}, "layer": [
  {"transform": [{"filter": "isValid(datum.x)"}, {"fold": ["u", "d"], "as": ["b", "y"]}], "mark": {"type": "line", "color": "#c3262b", "strokeWidth": 1.1}, "encoding": {"x": {"field": "x", "type": "quantitative", "axis": null}, "y": {"field": "y", "type": "quantitative"}, "detail": {"field": "b"}}},
  {"transform": [{"filter": "isValid(datum.x)"}, {"fold": ["u", "d"], "as": ["b", "y"]}], "mark": {"type": "point", "shape": "circle", "fill": "white", "fillOpacity": 0.55, "stroke": "#dc4a4a", "strokeWidth": 0.9, "size": 22},
   "encoding": {"x": {"field": "x", "type": "quantitative", "scale": {"domain": [-0.8, 0.8], "nice": false, "zero": false}, "axis": {"orient": "bottom", "title": "Campo Magnético (kOe)", "values": [-0.8,-0.7,-0.6,-0.5,-0.4,-0.3,-0.2,-0.1,0,0.1,0.2,0.3,0.4,0.5,0.6,0.7,0.8], "format": ".1f", "labelExpr": "abs(round(datum.value*10))%4==0 ? datum.label : ''", "tickSize": {"condition": {"test": "abs(round(datum.value*10))%2==1", "value": 1.5}, "value": 3}}},
                "y": {"field": "y", "type": "quantitative", "scale": {"domain": [-1.25, 1.25], "nice": false, "zero": false}, "axis": {"title": "Sinal de MOKE", "values": [-1,-0.75,-0.5,-0.25,0,0.25,0.5,0.75,1], "format": ".1f", "labelExpr": "abs(round(datum.value*4))%2==0 ? datum.label : ''", "tickSize": {"condition": {"test": "abs(round(datum.value*4))%2==1", "value": 1.5}, "value": 3}}}}},
  {"transform": [{"filter": "isValid(datum.t)"}], "mark": {"type": "text", "align": "left", "baseline": "middle", "fontSize": 13, "fontWeight": "bold", "color": "#111"}, "encoding": {"x": {"datum": -0.792, "type": "quantitative", "axis": {"orient": "bottom", "title": null, "values": [-0.6,-0.2,0.2,0.6], "format": ".1f", "domain": false, "tickSize": 3}}, "y": {"datum": 1.1, "type": "quantitative"}, "text": {"field": "t"}}},
  {"transform": [{"filter": "isValid(datum.hc)"}], "mark": {"type": "text", "align": "left", "baseline": "middle", "fontSize": 11, "color": "#222"}, "encoding": {"x": {"datum": -0.685, "type": "quantitative", "axis": null}, "y": {"datum": 0.75, "type": "quantitative"}, "text": {"value": "H"}}},
  {"transform": [{"filter": "isValid(datum.hc)"}], "mark": {"type": "text", "align": "left", "baseline": "middle", "fontSize": 6, "dx": 8, "dy": 3.5, "color": "#222"}, "encoding": {"x": {"datum": -0.685, "type": "quantitative", "axis": null}, "y": {"datum": 0.75, "type": "quantitative"}, "text": {"value": "C"}}},
  {"transform": [{"filter": "isValid(datum.hc)"}], "mark": {"type": "text", "align": "left", "baseline": "middle", "fontSize": 11, "dx": 12.5, "color": "#222"}, "encoding": {"x": {"datum": -0.685, "type": "quantitative", "axis": null}, "y": {"datum": 0.75, "type": "quantitative"}, "text": {"field": "hc"}}},
  {"transform": [{"filter": "isValid(datum.hs)"}], "mark": {"type": "text", "align": "left", "baseline": "middle", "fontSize": 11, "color": "#222"}, "encoding": {"x": {"datum": -0.685, "type": "quantitative", "axis": null}, "y": {"datum": 0.47, "type": "quantitative"}, "text": {"value": "H"}}},
  {"transform": [{"filter": "isValid(datum.hs)"}], "mark": {"type": "text", "align": "left", "baseline": "middle", "fontSize": 6, "dx": 8, "dy": 3.5, "color": "#222"}, "encoding": {"x": {"datum": -0.685, "type": "quantitative", "axis": null}, "y": {"datum": 0.47, "type": "quantitative"}, "text": {"value": "s"}}},
  {"transform": [{"filter": "isValid(datum.hs)"}], "mark": {"type": "text", "align": "left", "baseline": "middle", "fontSize": 11, "dx": 12.5, "color": "#222"}, "encoding": {"x": {"datum": -0.685, "type": "quantitative", "axis": null}, "y": {"datum": 0.47, "type": "quantitative"}, "text": {"field": "hs"}}}
 ]}
]},
{"hconcat": [
 {"width": 251, "height": 174, "transform": [{"filter": "datum.p == 'A5'"}], "resolve": {"axis": {"x": "independent"}}, "layer": [
  {"transform": [{"filter": "isValid(datum.x)"}, {"fold": ["u", "d"], "as": ["b", "y"]}], "mark": {"type": "line", "color": "#c3262b", "strokeWidth": 1.1}, "encoding": {"x": {"field": "x", "type": "quantitative", "axis": null}, "y": {"field": "y", "type": "quantitative"}, "detail": {"field": "b"}}},
  {"transform": [{"filter": "isValid(datum.x)"}, {"fold": ["u", "d"], "as": ["b", "y"]}], "mark": {"type": "point", "shape": "circle", "fill": "white", "fillOpacity": 0.55, "stroke": "#dc4a4a", "strokeWidth": 0.9, "size": 22},
   "encoding": {"x": {"field": "x", "type": "quantitative", "scale": {"domain": [-0.8, 0.8], "nice": false, "zero": false}, "axis": {"orient": "bottom", "title": "Campo Magnético (kOe)", "values": [-0.8,-0.7,-0.6,-0.5,-0.4,-0.3,-0.2,-0.1,0,0.1,0.2,0.3,0.4,0.5,0.6,0.7,0.8], "format": ".1f", "labelExpr": "abs(round(datum.value*10))%4==0 ? datum.label : ''", "tickSize": {"condition": {"test": "abs(round(datum.value*10))%2==1", "value": 1.5}, "value": 3}}},
                "y": {"field": "y", "type": "quantitative", "scale": {"domain": [-1.25, 1.25], "nice": false, "zero": false}, "axis": {"title": "Sinal de MOKE", "values": [-1,-0.75,-0.5,-0.25,0,0.25,0.5,0.75,1], "format": ".1f", "labelExpr": "abs(round(datum.value*4))%2==0 ? datum.label : ''", "tickSize": {"condition": {"test": "abs(round(datum.value*4))%2==1", "value": 1.5}, "value": 3}}}}},
  {"transform": [{"filter": "isValid(datum.t)"}], "mark": {"type": "text", "align": "left", "baseline": "middle", "fontSize": 13, "fontWeight": "bold", "color": "#111"}, "encoding": {"x": {"datum": -0.792, "type": "quantitative", "axis": {"orient": "bottom", "title": null, "values": [-0.6,-0.2,0.2,0.6], "format": ".1f", "domain": false, "tickSize": 3}}, "y": {"datum": 1.1, "type": "quantitative"}, "text": {"field": "t"}}},
  {"transform": [{"filter": "isValid(datum.hc)"}], "mark": {"type": "text", "align": "left", "baseline": "middle", "fontSize": 11, "color": "#222"}, "encoding": {"x": {"datum": -0.715, "type": "quantitative", "axis": null}, "y": {"datum": 0.77, "type": "quantitative"}, "text": {"value": "H"}}},
  {"transform": [{"filter": "isValid(datum.hc)"}], "mark": {"type": "text", "align": "left", "baseline": "middle", "fontSize": 6, "dx": 8, "dy": 3.5, "color": "#222"}, "encoding": {"x": {"datum": -0.715, "type": "quantitative", "axis": null}, "y": {"datum": 0.77, "type": "quantitative"}, "text": {"value": "C"}}},
  {"transform": [{"filter": "isValid(datum.hc)"}], "mark": {"type": "text", "align": "left", "baseline": "middle", "fontSize": 11, "dx": 12.5, "color": "#222"}, "encoding": {"x": {"datum": -0.715, "type": "quantitative", "axis": null}, "y": {"datum": 0.77, "type": "quantitative"}, "text": {"field": "hc"}}},
  {"transform": [{"filter": "isValid(datum.hs)"}], "mark": {"type": "text", "align": "left", "baseline": "middle", "fontSize": 11, "color": "#222"}, "encoding": {"x": {"datum": -0.715, "type": "quantitative", "axis": null}, "y": {"datum": 0.5, "type": "quantitative"}, "text": {"value": "H"}}},
  {"transform": [{"filter": "isValid(datum.hs)"}], "mark": {"type": "text", "align": "left", "baseline": "middle", "fontSize": 6, "dx": 8, "dy": 3.5, "color": "#222"}, "encoding": {"x": {"datum": -0.715, "type": "quantitative", "axis": null}, "y": {"datum": 0.5, "type": "quantitative"}, "text": {"value": "s"}}},
  {"transform": [{"filter": "isValid(datum.hs)"}], "mark": {"type": "text", "align": "left", "baseline": "middle", "fontSize": 11, "dx": 12.5, "color": "#222"}, "encoding": {"x": {"datum": -0.715, "type": "quantitative", "axis": null}, "y": {"datum": 0.5, "type": "quantitative"}, "text": {"field": "hs"}}}
 ]},
 {"width": 251, "height": 174, "transform": [{"filter": "datum.p == 'A6'"}], "resolve": {"axis": {"x": "independent"}}, "layer": [
  {"transform": [{"filter": "isValid(datum.x)"}, {"fold": ["u", "d"], "as": ["b", "y"]}], "mark": {"type": "point", "shape": "circle", "fill": "white", "fillOpacity": 0.4, "stroke": "#dc4a4a", "strokeWidth": 0.9, "size": 24},
   "encoding": {"x": {"field": "x", "type": "quantitative", "scale": {"domain": [-0.8, 0.8], "nice": false, "zero": false}, "axis": {"orient": "bottom", "title": "Campo Magnético (kOe)", "values": [-0.8,-0.7,-0.6,-0.5,-0.4,-0.3,-0.2,-0.1,0,0.1,0.2,0.3,0.4,0.5,0.6,0.7,0.8], "format": ".1f", "labelExpr": "abs(round(datum.value*10))%4==0 ? datum.label : ''", "tickSize": {"condition": {"test": "abs(round(datum.value*10))%2==1", "value": 1.5}, "value": 3}}},
                "y": {"field": "y", "type": "quantitative", "scale": {"domain": [-1.25, 1.25], "nice": false, "zero": false}, "axis": {"title": "Sinal de MOKE", "values": [-1,-0.75,-0.5,-0.25,0,0.25,0.5,0.75,1], "format": ".1f", "labelExpr": "abs(round(datum.value*4))%2==0 ? datum.label : ''", "tickSize": {"condition": {"test": "abs(round(datum.value*4))%2==1", "value": 1.5}, "value": 3}}}}},
  {"transform": [{"filter": "isValid(datum.t)"}], "mark": {"type": "text", "align": "left", "baseline": "middle", "fontSize": 13, "fontWeight": "bold", "color": "#111"}, "encoding": {"x": {"datum": -0.792, "type": "quantitative", "axis": {"orient": "bottom", "title": null, "values": [-0.6,-0.2,0.2,0.6], "format": ".1f", "domain": false, "tickSize": 3}}, "y": {"datum": 1.1, "type": "quantitative"}, "text": {"field": "t"}}}
 ]}
]}
],
"config": {
  "font": "Liberation Sans",
  "locale": {"number": {"decimal": ",", "thousands": ".", "grouping": [3], "currency": ["", ""], "minus": "-"}},
  "view": {"stroke": "#8a8a8a", "strokeWidth": 1},
  "concat": {"spacing": 26},
  "axis": {"grid": false, "labelFont": "Liberation Sans", "labelFontSize": 6, "labelColor": "#666", "titleFont": "Liberation Sans", "titleFontSize": 7.5, "titleFontWeight": "normal", "titleColor": "#555", "domainColor": "#8a8a8a", "tickColor": "#8a8a8a", "labelOverlap": false},
  "axisX": {"labelPadding": 2, "titlePadding": 8},
  "axisY": {"labelPadding": 1.5, "titlePadding": 4},
  "text": {"font": "Liberation Sans"}
}
}
